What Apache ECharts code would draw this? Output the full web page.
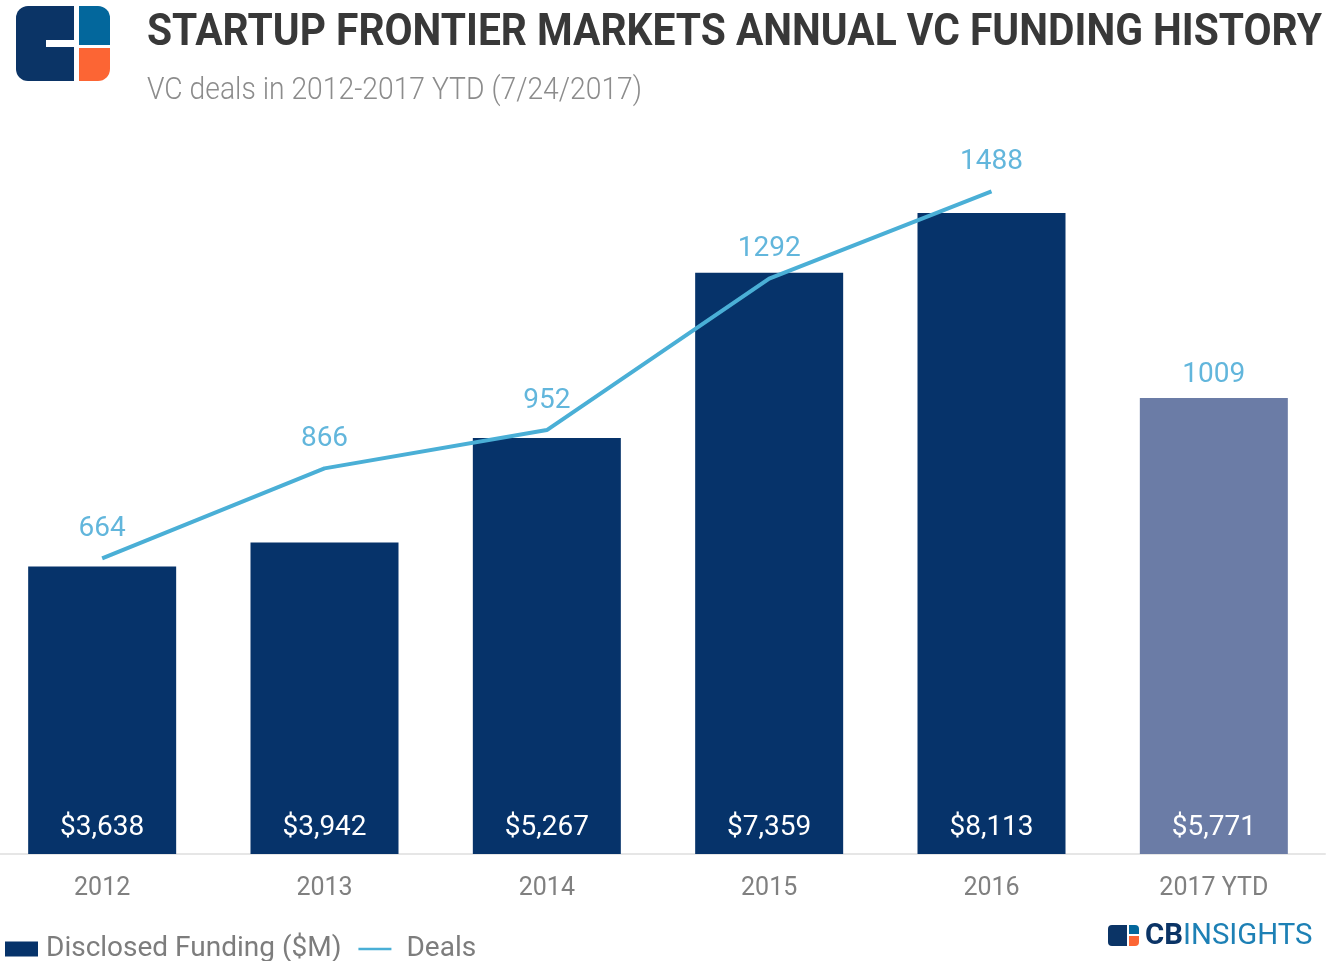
<!DOCTYPE html>
<html>
<head>
<meta charset="utf-8">
<script src="https://cdn.jsdelivr.net/npm/echarts@6/dist/echarts.min.js"></script>
<style>
  html, body { margin: 0; padding: 0; background: #fff; }
  #chart { width: 1327px; height: 961px; }
</style>
</head>
<body>
<div id="chart"></div>
<script>
var years = ['2012', '2013', '2014', '2015', '2016', '2017 YTD'];
var funding = [3638, 3942, 5267, 7359, 8113, 5771];
var deals = [664, 866, 952, 1292, 1488, 1009];

var navy = '#06336a';
var ytdColor = '#6b7ca6';
var lineBlue = '#4aafd6';
var labelBlue = '#62b6dc';

// squeeze a text to a given width (the source uses a condensed face)
function fitScale(text, font, width) {
    var ctx = document.createElement('canvas').getContext('2d');
    ctx.font = font;
    return width / ctx.measureText(text).width;
}

var titleText = 'STARTUP FRONTIER MARKETS ANNUAL VC FUNDING HISTORY';
var subText = 'VC deals in 2012-2017 YTD (7/24/2017)';
var titleFont = 'bold 45px Roboto';
var subFont = '300 32px Roboto';

var myChart = echarts.init(document.getElementById('chart'));

var option = {
    backgroundColor: '#fff',
    animation: false,
    grid: { left: -9, right: 2, top: 64, bottom: 107, outerBoundsMode: 'none', containLabel: false },
    legend: {
        left: 0,
        top: 930,
        itemWidth: 33,
        itemHeight: 15,
        itemGap: 17,
        textStyle: { fontFamily: 'Roboto', fontSize: 28, color: '#7d7d7d', padding: [0, 0, 0, 3] },
        data: [
            { name: 'Disclosed Funding ($M)', icon: 'rect' },
            {
                name: 'Deals',
                icon: 'path://M0,0 L40,0 L40,3 L0,3 Z',
                itemStyle: { color: lineBlue, opacity: 1 },
                textStyle: { padding: [0, 0, 0, 10] }
            }
        ]
    },
    xAxis: {
        type: 'category',
        data: years,
        axisTick: { show: false },
        axisLine: { lineStyle: { color: '#e6e6e6', width: 2 } },
        axisLabel: { fontFamily: 'Roboto', fontSize: 25, color: '#808080', margin: 22 }
    },
    yAxis: [
        { type: 'value', min: 0, max: 10000, show: false, splitLine: { show: false } },
        { type: 'value', min: 0, max: 1774, show: false, splitLine: { show: false } }
    ],
    series: [
        {
            name: 'Disclosed Funding ($M)',
            type: 'bar',
            barWidth: 148,
            itemStyle: { color: navy },
            data: funding.map(function (v, i) {
                return i === funding.length - 1 ? { value: v, itemStyle: { color: ytdColor } } : v;
            }),
            label: {
                show: true,
                position: 'insideBottom',
                distance: 12,
                color: '#fff',
                fontFamily: 'Roboto',
                fontSize: 28,
                formatter: function (p) { return '$' + p.value.toLocaleString('en-US'); }
            }
        },
        {
            name: 'Deals',
            type: 'line',
            yAxisIndex: 1,
            color: lineBlue,
            symbol: 'circle',
            symbolSize: 1,
            itemStyle: { color: 'rgba(0,0,0,0)' },
            lineStyle: { color: lineBlue, width: 4 },
            data: deals.slice(0, 5),
            label: {
                show: true,
                position: 'top',
                distance: 15,
                color: labelBlue,
                fontFamily: 'Roboto',
                fontSize: 28
            }
        },
        {
            // the 2017 YTD count is labelled but not joined to the line
            name: 'Deals YTD',
            type: 'line',
            yAxisIndex: 1,
            symbol: 'circle',
            symbolSize: 1,
            itemStyle: { color: 'rgba(0,0,0,0)' },
            lineStyle: { width: 0 },
            data: deals.map(function (v, i) { return i === deals.length - 1 ? v : null; }),
            label: {
                show: true,
                position: 'top',
                distance: 15,
                color: labelBlue,
                fontFamily: 'Roboto',
                fontSize: 28
            }
        }
    ],
    graphic: [
        // header logo
        { type: 'rect', shape: { x: 16, y: 6, width: 58, height: 75, r: [12, 0, 0, 12] }, style: { fill: '#0b3466' } },
        { type: 'rect', shape: { x: 46, y: 40, width: 28, height: 7 }, style: { fill: '#fff' } },
        { type: 'rect', shape: { x: 79, y: 6, width: 31, height: 39, r: [0, 12, 0, 0] }, style: { fill: '#03679c' } },
        { type: 'rect', shape: { x: 79, y: 48, width: 31, height: 33, r: [0, 0, 12, 0] }, style: { fill: '#fc6534' } },
        {
            type: 'text', x: 147, y: 11,
            scaleX: fitScale(titleText, titleFont, 1175),
            style: { text: titleText, font: titleFont, fill: '#383838' }
        },
        {
            type: 'text', x: 147, y: 75,
            scaleX: fitScale(subText, subFont, 495),
            style: { text: subText, font: subFont, fill: '#8c8c8c' }
        },
        // CB Insights footer mark
        { type: 'rect', shape: { x: 1108, y: 925, width: 19, height: 21, r: [4, 0, 0, 4] }, style: { fill: '#0b3466' } },
        { type: 'rect', shape: { x: 1129, y: 925, width: 10, height: 9, r: [0, 4, 0, 0] }, style: { fill: '#03679c' } },
        { type: 'rect', shape: { x: 1129, y: 936, width: 10, height: 10, r: [0, 0, 4, 0] }, style: { fill: '#fc6534' } },
        {
            type: 'text', x: 1145, y: 921,
            scaleX: fitScale('CBINSIGHTS', '30px Roboto', 167),
            style: {
                text: '{b|CB}{l|INSIGHTS}',
                rich: {
                    b: { font: 'bold 30px Roboto', fill: '#0b3466' },
                    l: { font: '30px Roboto', fill: '#1d80b5' }
                }
            }
        }
    ]
};

myChart.setOption(option);
</script>
</body>
</html>
